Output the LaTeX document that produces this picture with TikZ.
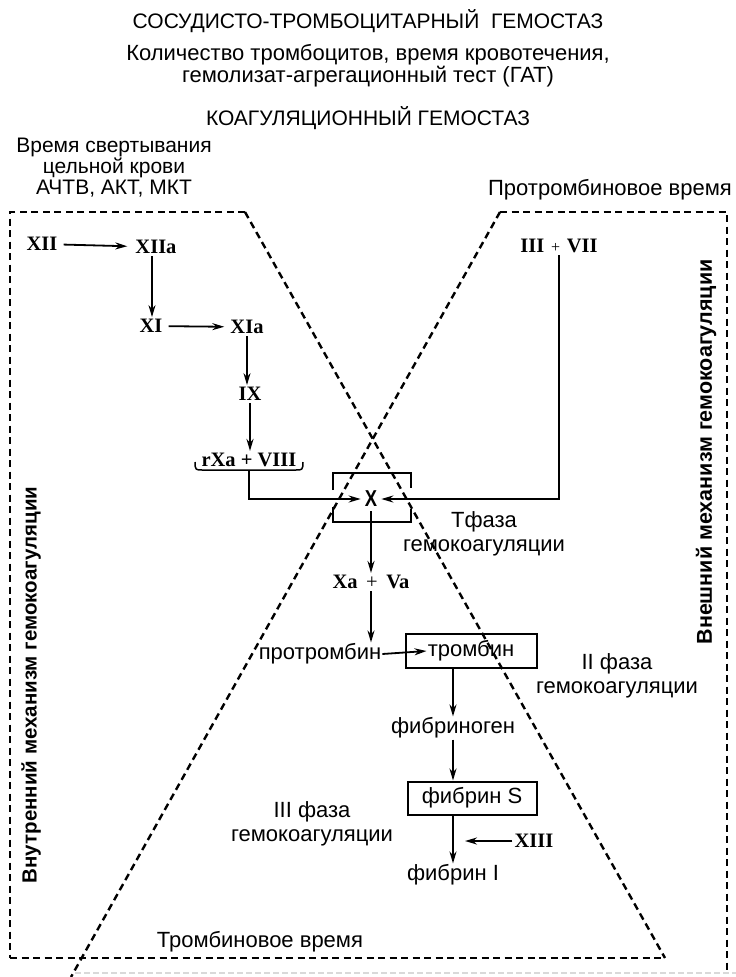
\documentclass[tikz,border=0pt]{standalone}
\usepackage{fontspec}
\setmainfont{Liberation Sans}
\newfontfamily\narrowfont[FakeStretch=0.8]{Liberation Sans}
\newfontfamily\numfont{Liberation Serif}
\usetikzlibrary{arrows.meta}

\begin{document}
\begin{tikzpicture}[x=1pt,y=-1pt,
  zone/.style={line width=2.4pt, dash pattern=on 7pt off 4.5pt},
  faint/.style={line width=1.2pt, gray!30, dash pattern=on 6pt off 3pt},
  flow/.style={line width=1.8pt, -{Stealth[length=12pt,width=7pt]}},
  plain/.style={line width=1.5pt},
  num/.style={font=\numfont\bfseries\fontsize{20.5}{20}\selectfont, inner sep=2pt},
  lbl/.style={font=\fontsize{22}{24}\selectfont, align=center, inner sep=1pt},
  toplbl/.style={font=\fontsize{21}{21}\selectfont, align=center, inner sep=1pt},
  head/.style={font=\fontsize{21}{21}\selectfont, align=center, inner sep=0pt},
  subhead/.style={font=\fontsize{22}{19}\selectfont, align=center, inner sep=0pt},
  vert/.style={font=\bfseries\fontsize{20.5}{20}\selectfont, rotate=90, inner sep=0pt},
  boxed/.style={draw, line width=2pt, inner sep=0pt, font=\fontsize{22}{22}\selectfont},
  frame/.style={line width=2.6pt}
]
\useasboundingbox (0,0) rectangle (736,977);

% headings
\node[head] (t1) at (368,21) {СОСУДИСТО-ТРОМБОЦИТАРНЫЙ\ \ ГЕМОСТАЗ};
\node[subhead] (t2) at (368,66) {Количество тромбоцитов, время кровотечения,\\гемолизат-агрегационный тест (ГАТ)};
\node[head] (t3) at (368,118) {КОАГУЛЯЦИОННЫЙ ГЕМОСТАЗ};
\node[toplbl] (avt) at (114,168) {Время свертывания\\цельной крови\\АЧТВ, АКТ, МКТ};
\node[lbl] (ptv) at (610,190) {Протромбиновое время};

% dashed zones
\draw[zone] (245,212) -- (10,212) -- (10,958);
\draw[zone] (500,212) -- (727,212) -- (727,972);
\draw[zone] (10,958) -- (665,958);
\draw[zone] (245,212) -- (665,958);
\draw[zone] (500,212) -- (71,977);
\draw[faint] (75,973) -- (736,973);

% intrinsic cascade
\node[num] (xii) at (42,244) {XII};
\node[num] (xiia) at (156,247) {XIIa};
\node[num] (xi) at (151,326) {XI};
\node[num] (xia) at (247,327) {XIa};
\node[num] (ix) at (250,394) {IX};
\node[num] (ixa) at (249,460) {rXa + VIII};

\draw[flow, shorten <=4pt, shorten >=6pt] (xii) -- (xiia);
\draw[flow] ([xshift=-4pt]xiia.south) -- ([xshift=-4pt]xiia.south |- xi.north);
\draw[flow, shorten <=4pt, shorten >=4pt] (xi) -- (xia);
\draw[flow] (xia.south) -- (xia.south |- ix.north);
\draw[flow] (ix.south) -- (ix.south |- ixa.north);

% brace under rXa + VIII
\draw[plain] (195,462) .. controls (195,470) and (196,470) .. (202,470) -- (296,470)
  .. controls (302,470) and (303,470) .. (303,462);
\coordinate (brc) at (249,470);

% factor X in its bracket box
\node[font=\narrowfont\bfseries\fontsize{23}{23}\selectfont, inner sep=4pt] (x) at (371,499) {X};
\draw[frame] (333,490) -- (333,473) -- (411,473) -- (411,488);
\draw[frame] (333,507) -- (333,522) -- (411,522) -- (411,509);

% extrinsic pathway
\node[num] (iii) at (559,246) {III\,\,{\mdseries\fontsize{16}{16}\selectfont +}\,\,VII};
\draw[flow] (brc) |- (x.west);
\draw[flow] (iii.south) |- (x.east);

% common pathway
\node[num] (xava) at (371,582) {Xa \,{\mdseries +}\, Va};
\draw[flow] (x.south) -- (xava.north);

\node[lbl] (protr) at (320,654) {протромбин};
\node[boxed, minimum width=131pt, minimum height=34pt] (thromb) at (471,651) {тромбин};
\draw[flow] (xava.south) -- (xava.south |- protr.north);
\draw[flow] (protr.east) -- ([xshift=22pt]thromb.west);

\node[lbl] (fibg) at (453,728) {фибриноген};
\draw[flow] ([xshift=-18pt]thromb.south) -- (fibg.north);

\node[boxed, minimum width=129pt, minimum height=33pt] (fibS) at (472,798) {фибрин S};
\draw[flow] (fibg.south) -- (fibg.south |- fibS.north);

\node[lbl] (fibI) at (453,875) {фибрин I};
\draw[flow] (fibg.south |- fibS.south) -- (fibI.north);

\node[num] (xiii) at (534,841) {XIII};
\draw[flow, shorten >=12pt] (xiii.west) -- (xiii.west -| fibI.north);

% phase labels
\node[lbl] (ph1) at (484,534) {Тфаза\\гемокоагуляции};
\node[lbl] (ph2) at (617,676) {II фаза\\гемокоагуляции};
\node[lbl] (ph3) at (312,824) {III фаза\\гемокоагуляции};
\node[lbl] (tv) at (260,942) {Тромбиновое время};

% side captions
\node[vert, font=\bfseries\fontsize{21.5}{20}\selectfont] (ext) at (706,452) {Внешний механизм гемокоагуляции};
\node[vert] (int) at (31,685) {Внутренний механизм гемокоагуляции};
\end{tikzpicture}
\end{document}
